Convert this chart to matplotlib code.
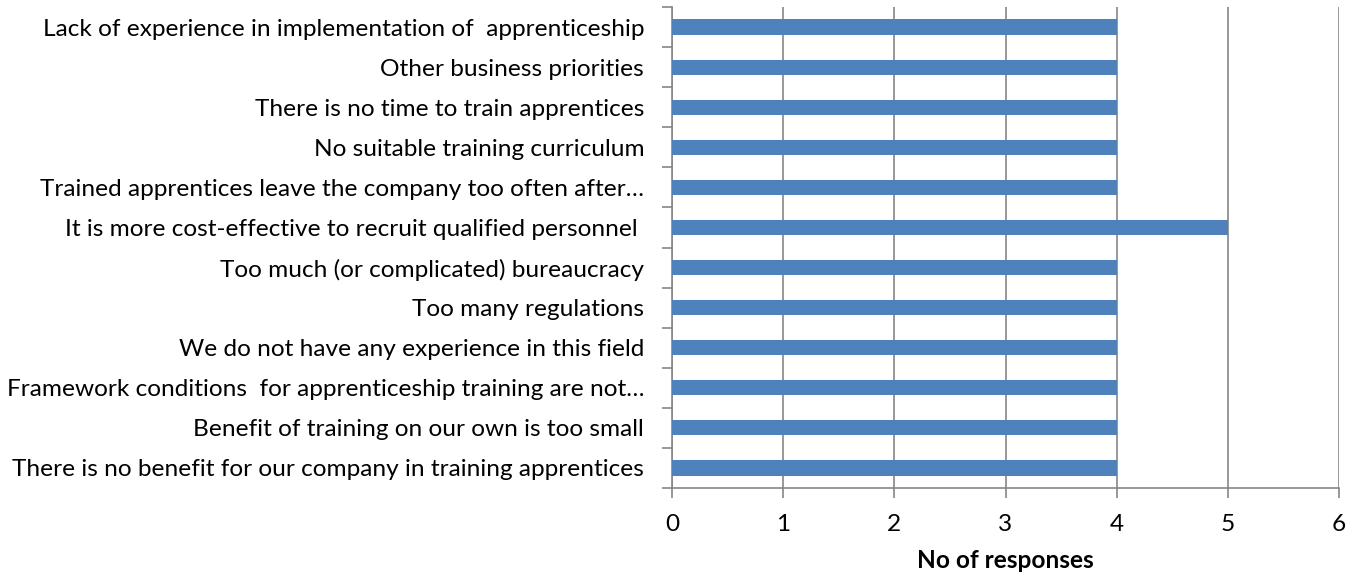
import matplotlib
matplotlib.use("Agg")
import matplotlib.pyplot as plt
import numpy as np

labels = [
    "There is no benefit for our company in training apprentices",
    "Benefit of training on our own is too small",
    "Framework conditions  for apprenticeship training are not\u2026",
    "We do not have any experience in this field",
    "Too many regulations",
    "Too much (or complicated) bureaucracy",
    "It is more cost-effective to recruit qualified personnel ",
    "Trained apprentices leave the company too often after\u2026",
    "No suitable training curriculum",
    "There is no time to train apprentices",
    "Other business priorities",
    "Lack of experience in implementation of  apprenticeship",
]
values = [4, 4, 4, 4, 4, 4, 5, 4, 4, 4, 4, 4]
xticks = [0, 1, 2, 3, 4, 5, 6]

plt.rcParams['font.family'] = ['Lato', 'DejaVu Sans']
grey = '#868686'
fs = 17.6

fig = plt.figure(figsize=(13.61, 5.76), dpi=100)
ax = fig.add_axes([672/1361, 1-488/576, (1339-672)/1361, (488-7)/576])

y = np.arange(len(labels))
ax.barh(y, values, height=0.38, color='#4F81BD', zorder=3)

ax.set_xlim(0, 6)
ax.set_ylim(-0.5, len(labels)-0.5)
ax.set_xticks(xticks)
ax.set_xticklabels([str(t) for t in xticks], fontsize=fs)
ax.set_yticks(y)
ax.set_yticklabels(labels, fontsize=fs)
ax.tick_params(axis='y', length=0, pad=20)
ax.set_yticks(np.arange(len(labels)+1)-0.5, minor=True)
ax.tick_params(axis='y', which='minor', length=7, color=grey, width=1.2)
ax.tick_params(axis='x', length=7, color=grey, width=1.2, pad=12)

ax.grid(axis='x', color=grey, linewidth=1.2, zorder=0)
for s in ['top', 'right']:
    ax.spines[s].set_visible(False)
for s in ['left', 'bottom']:
    ax.spines[s].set_color(grey)
    ax.spines[s].set_linewidth(1.2)

ax.set_xlabel('No of responses', fontsize=fs, fontweight='bold', labelpad=10)

fig.savefig('out.png', dpi=100)
